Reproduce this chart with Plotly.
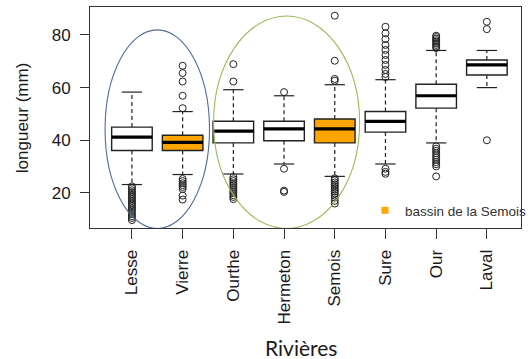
import plotly.graph_objects as go

# Fish length distributions (mm) per river
rivers = ["Lesse", "Vierre", "Ourthe", "Hermeton", "Semois", "Sure", "Our", "Laval"]
semois_basin = ["Vierre", "Semois"]

q1 = [36.1, 36.1, 39.0, 39.8, 39.0, 43.1, 52.2, 64.8]
median = [41.2, 39.2, 43.5, 44.3, 44.3, 47.2, 56.9, 68.6]
q3 = [45.0, 41.9, 47.2, 47.2, 48.1, 50.9, 61.3, 70.5]
whisker_low = [23.2, 27.0, 27.2, 31.0, 26.3, 31.0, 39.0, 60.0]
whisker_high = [58.3, 50.9, 59.2, 56.9, 61.1, 63.0, 74.1, 74.1]

outliers = {
    "Lesse": [22.5, 21.8, 21.0, 20.3, 19.6, 19.0, 18.3, 17.6, 17.0, 16.3,
              15.6, 15.0, 14.3, 13.6, 12.8, 12.0, 11.2, 10.5, 9.7],
    "Vierre": [52.2, 56.9, 62.3, 65.5, 68.3,
               25.3, 24.5, 23.7, 23.0, 22.3, 21.5, 19.0, 17.5],
    "Ourthe": [62.3, 68.9,
               26.0, 25.2, 24.5, 23.7, 23.0, 22.2, 21.5, 20.7, 20.0, 19.2, 18.5, 17.7],
    "Hermeton": [58.3, 29.2, 20.9, 20.4],
    "Semois": [62.6, 63.3, 70.2, 87.3,
               25.5, 24.8, 24.0, 23.3, 22.6, 21.9, 21.2, 20.5, 19.8, 19.0, 18.2, 17.0, 16.0],
    "Sure": [64.0, 65.2, 66.7, 68.6, 70.5, 72.4, 74.3, 76.2, 78.4, 80.6, 83.1,
             29.2, 28.0, 27.3],
    "Our": [75.0, 75.6, 76.2, 76.8, 77.4, 78.0, 78.6, 79.2, 79.7,
            37.7, 36.8, 36.0, 35.1, 34.3, 33.4, 32.6, 31.7, 30.9, 30.1, 26.3],
    "Laval": [85.0, 82.2, 40.0],
}

y_ticks = [20, 40, 60, 80]

INK = "#222222"
ORANGE = "#FFA500"
BOX_W = 0.8
CAP_W = 0.4

fig = go.Figure()

# Boxes (quartiles only; whiskers drawn separately with dashes)
for i, r in enumerate(rivers):
    fig.add_trace(go.Box(
        x=[i], q1=[q1[i]], median=[median[i]], q3=[q3[i]],
        lowerfence=[q1[i]], upperfence=[q3[i]],
        width=BOX_W, whiskerwidth=0,
        fillcolor=ORANGE if r in semois_basin else "white",
        line=dict(color=INK, width=1.4),
        boxpoints=False, showlegend=False, hoverinfo="skip",
    ))

# Dashed whiskers
wx, wy = [], []
for i in range(len(rivers)):
    wx += [i, i, None, i, i, None]
    wy += [q3[i], whisker_high[i], None, q1[i], whisker_low[i], None]
fig.add_trace(go.Scatter(x=wx, y=wy, mode="lines",
                         line=dict(color=INK, width=1.2, dash="4px,3px"),
                         showlegend=False, hoverinfo="skip"))

# Whisker caps
cx, cy = [], []
for i in range(len(rivers)):
    for v in (whisker_high[i], whisker_low[i]):
        cx += [i - CAP_W / 2, i + CAP_W / 2, None]
        cy += [v, v, None]
fig.add_trace(go.Scatter(x=cx, y=cy, mode="lines",
                         line=dict(color=INK, width=1.2),
                         showlegend=False, hoverinfo="skip"))

# Thick medians
mx, my = [], []
for i in range(len(rivers)):
    mx += [i - BOX_W / 2, i + BOX_W / 2, None]
    my += [median[i], median[i], None]
fig.add_trace(go.Scatter(x=mx, y=my, mode="lines",
                         line=dict(color="black", width=3.2),
                         showlegend=False, hoverinfo="skip"))

# Outliers
ox, oy = [], []
for i, r in enumerate(rivers):
    ox += [i] * len(outliers[r])
    oy += outliers[r]
fig.add_trace(go.Scatter(x=ox, y=oy, mode="markers",
                         marker=dict(symbol="circle-open", size=7,
                                     color=INK, line=dict(width=1.0)),
                         showlegend=False, hoverinfo="skip"))

# Legend entry for the Semois basin
fig.add_trace(go.Scatter(x=[None], y=[None], mode="markers",
                         marker=dict(symbol="square", size=7, color=ORANGE),
                         name="bassin de la Semois", showlegend=True))

# Group ellipses
fig.add_shape(type="circle", xref="x", yref="y",
              x0=-0.53, x1=1.53, y0=6.5, y1=81.9,
              line=dict(color="#4F6D9A", width=1.1))
fig.add_shape(type="circle", xref="x", yref="y",
              x0=1.61, x1=4.49, y0=6.5, y1=87.2,
              line=dict(color="#9BBB59", width=1.1))

axis_font = dict(family="Liberation Sans, Arial, sans-serif", size=17, color="#1a1a1a")

fig.update_layout(
    width=532, height=359,
    margin=dict(l=90, r=0, t=7, b=131),
    paper_bgcolor="white", plot_bgcolor="white",
    showlegend=True,
    legend=dict(x=(372 - 90) / 442, y=(228 - 210.5) / 221,
                xanchor="left", yanchor="middle",
                bgcolor="rgba(0,0,0,0)", itemwidth=30,
                font=dict(family="Liberation Sans, Arial, sans-serif",
                          size=13.5, color="#333333"),
                tracegroupgap=0),
    xaxis=dict(range=[-0.827, 7.673], tickmode="array",
               tickvals=list(range(len(rivers))), ticktext=rivers,
               tickangle=-90, ticks="outside", ticklen=10, tickcolor="#333333",
               showline=True, mirror=True, linecolor="#333333", linewidth=1,
               showgrid=False, zeroline=False, tickfont=axis_font,
               ticklabelstandoff=4),
    yaxis=dict(range=[6.7, 90.6], tickmode="array", tickvals=y_ticks,
               ticks="outside", ticklen=9, tickcolor="#333333",
               showline=True, mirror=True, linecolor="#333333", linewidth=1,
               showgrid=False, zeroline=False, tickfont=axis_font,
               ticklabelstandoff=6),
    annotations=[
        dict(text="longueur (mm)", textangle=-90, xref="paper", yref="paper",
             x=(21 - 90) / 442, y=0.5, xanchor="center", yanchor="middle",
             showarrow=False, font=dict(family="Liberation Sans, Arial, sans-serif",
                                        size=17, color="#1a1a1a")),
        dict(text="Rivières", xref="paper", yref="paper",
             x=(306 - 90) / 442, y=-(348 - 228) / 221,
             xanchor="center", yanchor="middle", showarrow=False,
             font=dict(family="Lato, sans-serif", size=21, color="#1a1a1a")),
    ],
)

fig.write_html("out.html")
